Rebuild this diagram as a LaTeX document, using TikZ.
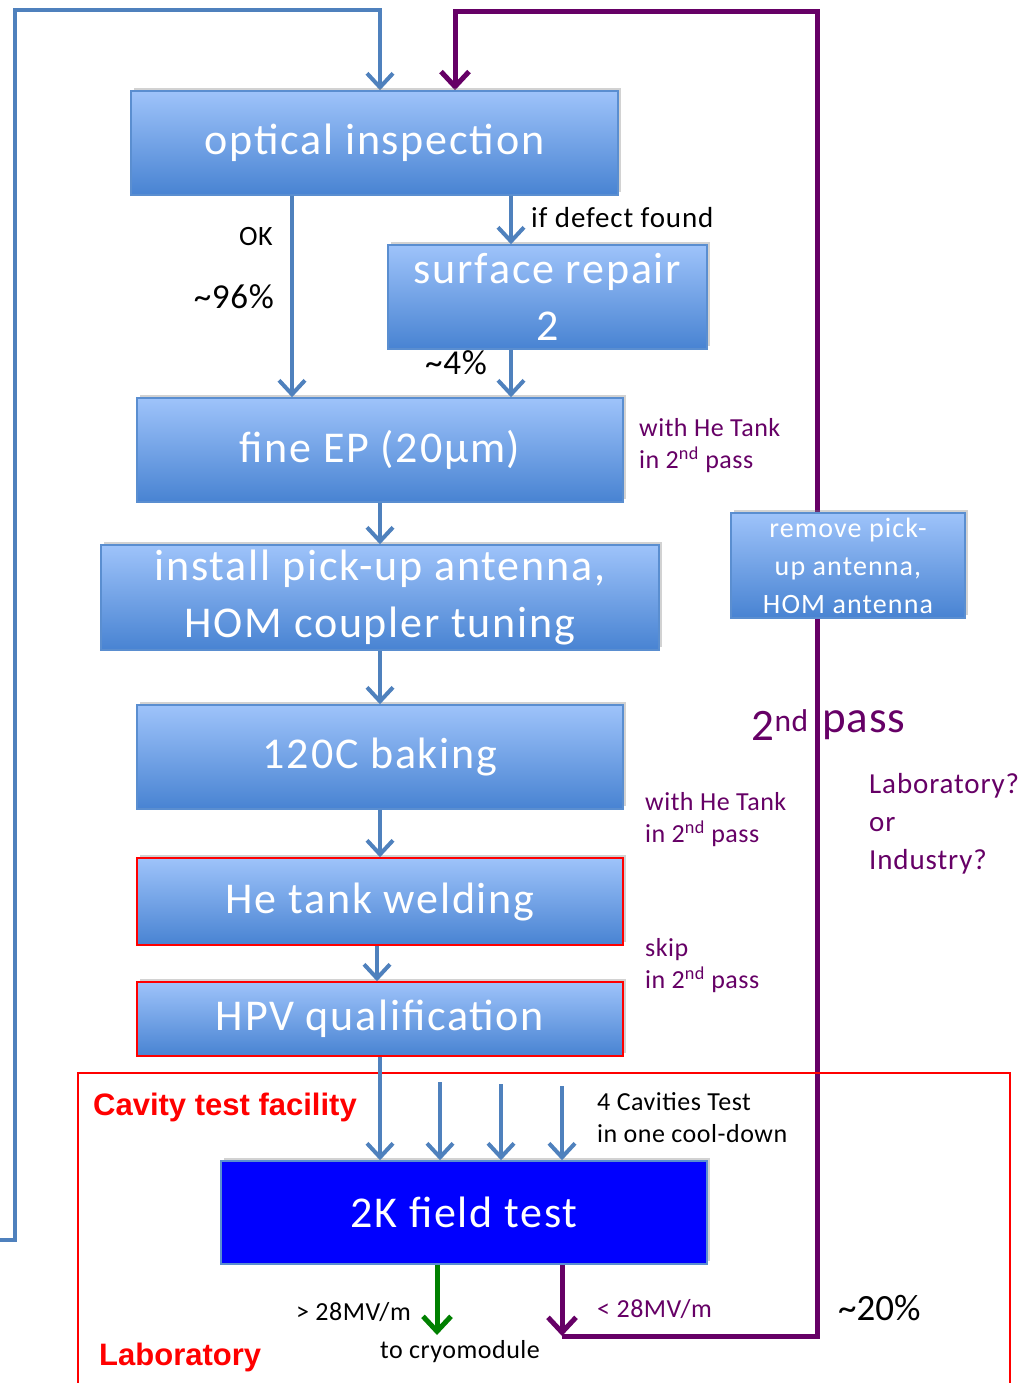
\documentclass[tikz,border=0pt]{standalone}
\usepackage{fontspec}
\setmainfont{Carlito}
\newfontfamily\arialfont{Liberation Sans}
\usetikzlibrary{arrows.meta,shadows,calc}
\pgfdeclarelayer{background}
\pgfsetlayers{background,main}
\definecolor{boxtop}{HTML}{9EC3FA}
\definecolor{boxbot}{HTML}{4883D2}
\definecolor{boxline}{HTML}{5A8ED0}
\definecolor{arrblue}{HTML}{4F81BD}
\definecolor{purp}{HTML}{660066}
\definecolor{grn}{HTML}{008000}
\tikzset{
  gbox/.style={rectangle, draw=boxline, line width=1.5pt, top color=boxtop, bottom color=boxbot,
     text=white, align=center, inner sep=0pt,
     drop shadow={opacity=0.35, shadow xshift=3pt, shadow yshift=3pt}},
  rbox/.style={gbox, draw=red},
  big/.style={font=\addfontfeatures{LetterSpace=4}\fontsize{44}{57}\selectfont},
  barr/.style={draw=arrblue, line width=4pt, -{Straight Barb[length=14pt,width=26pt]}},
  parr/.style={draw=purp, line width=5pt, -{Straight Barb[length=15pt,width=28pt]}},
  garr/.style={draw=grn, line width=5pt, -{Straight Barb[length=15pt,width=28pt]}},
  plab/.style={text=purp, anchor=west, align=left, inner sep=0pt, font=\addfontfeatures{LetterSpace=2}\fontsize{26}{32}\selectfont},
  blab/.style={text=black, inner sep=0pt, font=\addfontfeatures{LetterSpace=2}\fontsize{26}{32}\selectfont},
  redlab/.style={text=red, anchor=west, inner sep=0pt, font=\arialfont\bfseries\fontsize{31}{36}\selectfont},
}
\begin{document}
\begin{tikzpicture}[x=1pt,y=-1pt]
\useasboundingbox (0,0) rectangle (1034,1383);
\begin{pgfonlayer}{background}
\fill[white] (0,0) rectangle (1034,1383);
\end{pgfonlayer}

% red frame
\draw[red, line width=1.5pt] (78,1073) rectangle (1010,1400);

% boxes
\node[gbox, big, minimum width=487pt, minimum height=104pt] (opt) at (374.5,143) {optical inspection};
\node[gbox, big, minimum width=319pt, minimum height=104pt] (rep) at (547.5,297) {surface repair\\2};
\node[gbox, big, minimum width=486pt, minimum height=104pt] (ep) at (380,450) {fine EP (20µm)};
\node[gbox, big, minimum width=558pt, minimum height=105pt] (inst) at (380,597.5) {install pick-up antenna,\\HOM coupler tuning};
\node[gbox, minimum width=234pt, minimum height=105pt, font=\addfontfeatures{LetterSpace=4}\fontsize{28}{38}\selectfont] (rem) at (848,565.5) {remove pick-\\up antenna,\\HOM antenna};
\node[gbox, big, minimum width=486pt, minimum height=104pt] (bake) at (380,757) {120C baking};
\node[rbox, big, minimum width=486pt, minimum height=87pt] (weld) at (380,901.5) {He tank welding};
\node[rbox, big, minimum width=486pt, minimum height=74pt] (hpv) at (380,1019) {HPV qualification};
\node[rectangle, draw=boxline, line width=1.5pt, fill={rgb,255:red,0;green,0;blue,255}, text=white, big,
      minimum width=486pt, minimum height=103pt, inner sep=0pt,
      drop shadow={opacity=0.35, shadow xshift=3pt, shadow yshift=3pt}] (ft) at (464,1212.5) {2K field test};

% helper x coordinates
\coordinate (xa) at (292,0);
\coordinate (xb) at (511,0);
\coordinate (xc) at (380,0);
\coordinate (xd) at (377,0);

% loops (behind the boxes)
\coordinate (lb0) at (0,1240);
\coordinate (lb1) at (15,1240);
\coordinate (lb2) at (15,10);
\coordinate (lb3) at (380,10);
\coordinate (pb0) at (562,1336);
\coordinate (pb1) at (817,1336);
\coordinate (pb2) at (817,12);
\coordinate (pb3) at (455,12);
\begin{pgfonlayer}{background}
\draw[barr] (lb0) -- (lb1) -- (lb2) -- (lb3) -- (opt.north -| lb3);
\draw[parr] (ft.south -| pb0) -- (pb0);
\draw[parr] (pb0) -- (pb1) -- (pb2) -- (pb3) -- (opt.north -| pb3);
\end{pgfonlayer}

% main flow arrows
\draw[barr] (opt.south -| xa) -- (ep.north -| xa);
\draw[barr] (opt.south -| xb) -- (rep.north -| xb);
\draw[barr] (rep.south -| xb) -- (ep.north -| xb);
\draw[barr] (ep.south -| xc) -- (inst.north -| xc);
\draw[barr] (inst.south -| xc) -- (bake.north -| xc);
\draw[barr] (bake.south -| xc) -- (weld.north -| xc);
\draw[barr] (weld.south -| xd) -- (hpv.north -| xd);
\draw[barr] (hpv.south -| xc) -- (ft.north -| xc);

% three more cavities
\coordinate (c1) at (440,1082);
\coordinate (c2) at (501,1084);
\coordinate (c3) at (562,1086);
\draw[barr] (c1) -- (ft.north -| c1);
\draw[barr] (c2) -- (ft.north -| c2);
\draw[barr] (c3) -- (ft.north -| c3);

% green
\coordinate (g1) at (437,1335);
\draw[garr] (ft.south -| g1) -- (g1);

% labels
\node[blab, anchor=east, font=\addfontfeatures{LetterSpace=2}\fontsize{28}{32}\selectfont] (ok) at (273,237) {OK};
\node[blab, anchor=east, font=\addfontfeatures{LetterSpace=2}\fontsize{35}{38}\selectfont] (p96) at (274,297) {\textasciitilde96\%};
\node[blab, anchor=west, font=\addfontfeatures{LetterSpace=3}\fontsize{29}{32}\selectfont] (idf) at (531,218) {if defect found};
\node[blab, font=\addfontfeatures{LetterSpace=2}\fontsize{35}{38}\selectfont] (p4) at (456,363) {\textasciitilde4\%};

\node[plab] (he1) at (639,446) {with He Tank\\in 2\textsuperscript{nd} pass};
\node[plab] (he2) at (645,820) {with He Tank\\in 2\textsuperscript{nd} pass};
\node[plab] (skip) at (645,966) {skip\\in 2\textsuperscript{nd} pass};
\node[text=purp, anchor=east, inner sep=0pt, font=\addfontfeatures{LetterSpace=2}\fontsize{45}{50}\selectfont] (snd) at (809,725) {2\textsuperscript{nd}};
\node[text=purp, anchor=west, inner sep=0pt, font=\addfontfeatures{LetterSpace=2}\fontsize{45}{50}\selectfont] (pass) at (822,725) {pass};
\node[text=purp, anchor=west, align=left, inner sep=0pt, font=\addfontfeatures{LetterSpace=3}\fontsize{29}{38}\selectfont] (labind) at (869,824) {Laboratory?\\or\\Industry?};

\node[redlab] (ctf) at (93,1107) {Cavity test facility};
\node[redlab] (lab) at (99,1357) {Laboratory};
\node[blab, anchor=west, align=left] (four) at (597,1118) {4 Cavities Test\\in one cool-down};
\node[blab, anchor=east] (gt) at (411,1312) {> 28MV/m};
\node[blab] (cryo) at (460,1352) {to cryomodule};
\node[text=purp, anchor=west, inner sep=0pt, font=\addfontfeatures{LetterSpace=2}\fontsize{26}{32}\selectfont] (lt) at (597,1309) {< 28MV/m};
\node[blab, anchor=west, font=\fontsize{37}{40}\selectfont] (p20) at (838,1308) {\textasciitilde20\%};
\end{tikzpicture}
\end{document}
